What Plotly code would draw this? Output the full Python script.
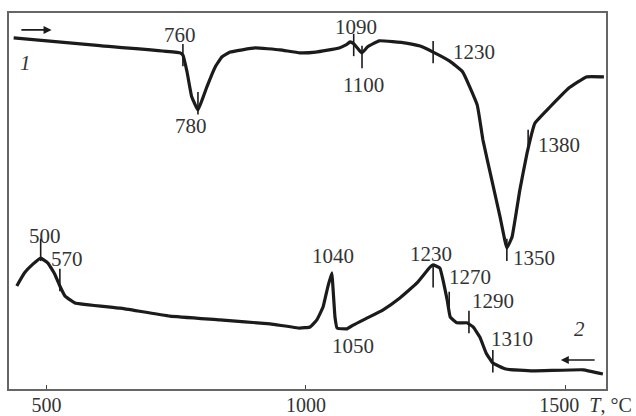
import plotly.graph_objects as go

# Curve 1 (heating) : temperature, signal (arbitrary units)
t1 = [437, 603, 757, 763, 771, 780, 792, 800, 809, 825, 838, 854, 902, 950, 988, 1019, 1064, 1077, 1085, 1092,
      1102, 1108, 1119, 1141, 1193, 1220, 1245, 1277, 1302, 1330, 1341, 1358, 1374, 1383, 1387, 1397, 1412, 1426,
      1441, 1470, 1489, 1507, 1540, 1574]
s1 = [93.4, 91.3, 89.4, 88.8, 84.3, 77.7, 74.2, 76.9, 80.3, 85.6, 88.3, 89.6, 90.7, 90.2, 89.4, 89.6, 90.7, 91.5, 92.3, 91.8,
      90.2, 89.4, 91.0, 92.6, 92.0, 91.2, 89.6, 87.2, 84.3, 75.5, 66.2, 55.6, 45.7, 39.6, 37.5, 40.4, 52.9, 62.8,
      70.7, 75.0, 77.7, 80.1, 83.0, 83.0]

# Curve 2 (cooling)
t2 = [443, 458, 474, 489, 503, 516, 526, 536, 555, 642, 738, 834, 931, 988, 1008, 1021, 1033, 1042, 1050, 1052,
      1056, 1060, 1079, 1091, 1118, 1148, 1181, 1214, 1239, 1245, 1258, 1264, 1272, 1278, 1291, 1310, 1322, 1335,
      1347, 1360, 1385, 1437, 1534, 1572]
s2 = [27.4, 30.9, 33.2, 34.8, 33.5, 30.6, 27.4, 24.7, 22.9, 21.5, 19.4, 18.4, 17.3, 16.2, 16.5, 18.4, 21.8, 27.1, 30.9, 27.1,
      19.1, 16.2, 16.0, 17.0, 18.9, 21.0, 24.2, 28.2, 32.4, 33.0, 32.2, 29.0, 23.7, 19.1, 17.6, 17.6, 16.5, 13.8,
      9.6, 6.9, 5.3, 4.8, 5.1, 4.0]

# Marked points (vertical ticks on curves)
m1_t = [763, 792, 1092, 1108, 1245, 1428, 1387]
m1_s = [88.8, 76.0, 91.5, 88.3, 89.6, 66.0, 37.0]
m2_t = [489, 526, 1245, 1276, 1314, 1360]
m2_s = [37.0, 29.0, 30.0, 22.9, 17.8, 7.4]

# Labels
lab1_text = ["760", "780", "1090", "1100", "1230", "1380", "1350"]
lab1_x = [757, 778, 1096, 1110, 1324, 1487, 1439]
lab1_y = [94.1, 69.9, 96.3, 80.9, 89.6, 64.9, 34.8]
lab2_text = ["500", "570", "1040", "1050", "1230", "1270", "1290", "1310"]
lab2_x = [497, 539, 1052, 1091, 1241, 1316, 1360, 1397]
lab2_y = [40.7, 34.6, 35.4, 11.4, 35.9, 29.8, 23.4, 13.3]

curve_names = ["1", "2"]
curve_name_x = [460, 1526]
curve_name_y = [86.7, 16.0]

tick_vals = [500, 1000, 1500]
tick_text = ["500", "1000", "\u00a0" * 8 + "1500 \u00a0<i>T</i>, °C"]

FONT = "Liberation Serif, Times New Roman, serif"
INK = "#1b1b1b"
TXT = "#333333"
FS = 21

fig = go.Figure()
fig.add_trace(go.Scatter(x=t1, y=s1, mode="lines", line=dict(color=INK, width=3.2, shape="spline", smoothing=0.3),
                         hoverinfo="skip", showlegend=False))
fig.add_trace(go.Scatter(x=t2, y=s2, mode="lines", line=dict(color=INK, width=3.2, shape="spline", smoothing=0.3),
                         hoverinfo="skip", showlegend=False))
fig.add_trace(go.Scatter(x=m1_t + m2_t, y=m1_s + m2_s, mode="markers",
                         marker=dict(symbol="line-ns", size=16, line=dict(width=1.6, color=INK)),
                         hoverinfo="skip", showlegend=False))

for txt, x, y in zip(lab1_text + lab2_text, lab1_x + lab2_x, lab1_y + lab2_y):
    fig.add_annotation(x=x, y=y, text=txt, showarrow=False, xanchor="center", yanchor="middle",
                       font=dict(family=FONT, size=FS, color=TXT))

for txt, x, y in zip(curve_names, curve_name_x, curve_name_y):
    fig.add_annotation(x=x, y=y, text="<i>" + txt + "</i>", showarrow=False,
                       font=dict(family=FONT, size=FS, color=TXT))

# direction arrows
fig.add_annotation(x=510, y=95.5, ax=449, ay=95.5, axref="x", ayref="y", text="", showarrow=True,
                   arrowhead=2, arrowsize=1, arrowwidth=1.6, arrowcolor=INK)
fig.add_annotation(x=1491, y=7.7, ax=1559, ay=7.7, axref="x", ayref="y", text="", showarrow=True,
                   arrowhead=2, arrowsize=1, arrowwidth=1.6, arrowcolor=INK)

fig.update_xaxes(range=[428, 1578], tickvals=tick_vals, ticktext=tick_text, ticks="inside", ticklen=4,
                 tickwidth=1.2, tickcolor="#444", showline=True, linecolor="#666", linewidth=1.5, mirror=True,
                 showgrid=False, zeroline=False, automargin=False, ticklabelstandoff=-3,
                 tickfont=dict(family=FONT, size=20, color=TXT))
fig.update_yaxes(range=[0, 100], showticklabels=False, ticks="", showline=True, linecolor="#666",
                 linewidth=1.5, mirror=True, showgrid=False, zeroline=False, automargin=False)

fig.update_layout(width=636, height=416, margin=dict(l=9, r=30, t=13, b=27, autoexpand=False),
                  paper_bgcolor="white", plot_bgcolor="white")

fig.write_html("out.html")
